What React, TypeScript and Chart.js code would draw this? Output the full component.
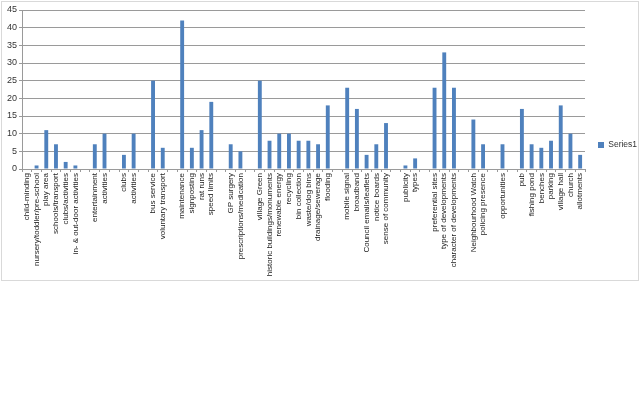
import { useEffect, useRef } from "react";
import { Chart, registerables } from "chart.js";

Chart.register(...registerables);

// empty strings are the blank spacer categories between groups
const categories = [
  "child-minding", "nursery/toddler/pre-school", "play area", "schools/transport", "clubs/activities", "in- & out-door activities",
  "",
  "entertainment", "activities",
  "",
  "clubs", "activities",
  "",
  "bus service", "voluntary transport",
  "",
  "maintenance", "signposting", "rat runs", "speed limits",
  "",
  "GP surgery", "prescriptions/medication",
  "",
  "village Green", "historic buildings/monuments", "renewable energy", "recycling", "bin collection", "waste/dog bins", "drainage/sewerage", "flooding",
  "",
  "mobile signal", "broadband", "Council emails/leaflets", "notice boards", "sense of community",
  "",
  "publicity", "types",
  "",
  "preferential sites", "type of developments", "character of developments",
  "",
  "Neighbourhood Watch", "policing presence",
  "",
  "opportunities",
  "",
  "pub", "fishing pond", "benches", "parking", "village hall", "church", "allotments",
];

const series1 = [
  0, 1, 11, 7, 2, 1,
  null,
  7, 10,
  null,
  4, 10,
  null,
  25, 6,
  null,
  42, 6, 11, 19,
  null,
  7, 5,
  null,
  25, 8, 10, 10, 8, 8, 7, 18,
  null,
  23, 17, 4, 7, 13,
  null,
  1, 3,
  null,
  23, 33, 23,
  null,
  14, 7,
  null,
  7,
  null,
  17, 7, 6, 8, 18, 10, 4,
];

const seriesName = "Series1";
const yMax = 45;
const yStep = 5;

const BAR = "#4F81BD";
const GRID = "#9a9a9a";
const FONT = "'Liberation Sans', Arial, sans-serif";

function ResponseChart() {
  const ref = useRef<HTMLCanvasElement>(null);

  useEffect(() => {
    const canvas = ref.current;
    if (!canvas) return;

    const chart = new Chart(canvas, {
      type: "bar",
      data: {
        labels: categories,
        datasets: [
          {
            label: seriesName,
            data: series1,
            backgroundColor: BAR,
            borderWidth: 0,
            categoryPercentage: 1,
            barPercentage: 0.4,
          },
        ],
      },
      options: {
        animation: false,
        responsive: true,
        maintainAspectRatio: false,
        layout: { padding: { top: 8, left: 0, right: 0, bottom: 0 } },
        plugins: {
          tooltip: { enabled: false },
          legend: {
            position: "right",
            maxWidth: 53,
            labels: {
              boxWidth: 6,
              boxHeight: 6,
              padding: 13,
              color: "#333",
              font: { family: FONT, size: 8.5 },
            },
          },
        },
        scales: {
          x: {
            offset: true,
            grid: {
              display: true,
              offset: true,
              drawOnChartArea: false,
              drawTicks: true,
              tickLength: 3,
              color: GRID,
            },
            border: { display: true, color: GRID },
            ticks: {
              autoSkip: false,
              minRotation: 90,
              maxRotation: 90,
              padding: 1,
              color: "#222",
              font: { family: FONT, size: 8 },
            },
            afterFit: (scale) => {
              scale.height = 111;
            },
          },
          y: {
            min: 0,
            max: yMax,
            grid: { color: GRID, tickLength: 3 },
            border: { display: true, color: GRID },
            ticks: {
              stepSize: yStep,
              padding: 2,
              color: "#333",
              font: { family: FONT, size: 9 },
            },
            afterFit: (scale) => {
              scale.width = 20;
            },
          },
        },
      },
    });
    return () => chart.destroy();
  }, []);

  return (
    <div style={{ position: "relative", width: "100%", height: "100%" }}>
      <canvas ref={ref} />
    </div>
  );
}

export default function App() {
  useEffect(() => {
    document.body.style.margin = "0";
  }, []);

  return (
    <div style={{ position: "relative", width: 640, height: 416, background: "#fff" }}>
      <div
        style={{
          position: "absolute",
          left: 1,
          top: 1,
          width: 638,
          height: 280,
          boxSizing: "border-box",
          border: "1px solid #d9d9d9",
        }}
      >
        <ResponseChart />
      </div>
    </div>
  );
}
